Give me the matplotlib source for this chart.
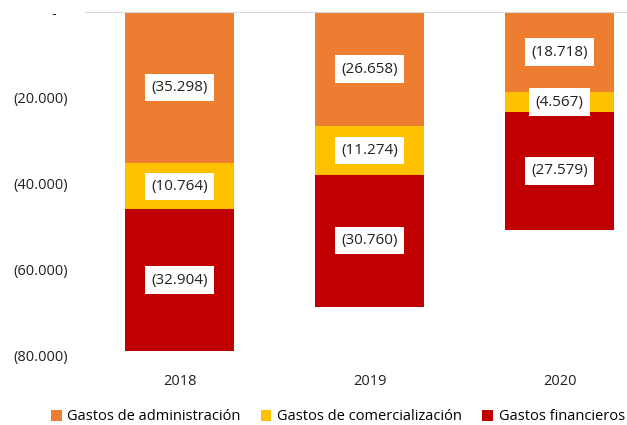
import matplotlib.pyplot as plt
import numpy as np

years = ["2018", "2019", "2020"]
administracion = [35298, 26658, 18718]
comercializacion = [10764, 11274, 4567]
financieros = [32904, 30760, 27579]

series = [
    ("Gastos de administración", administracion, "#ED7D31"),
    ("Gastos de comercialización", comercializacion, "#FFC000"),
    ("Gastos financieros", financieros, "#C00000"),
]

plt.rcParams['font.family'] = ['Open Sans', 'DejaVu Sans']

fig = plt.figure(figsize=(6.27, 4.25), dpi=100)
ax = fig.add_axes([84.5 / 627, 1 - 355 / 425, 1 - 84.5 / 627, (355 - 12) / 425])

x = np.arange(len(years))
bottom = np.zeros(len(years))
for name, vals, color in series:
    vals = -np.array(vals, dtype=float)
    ax.bar(x, vals, 0.575, bottom=bottom, color=color, label=name, edgecolor="none")
    for xi, b, v in zip(x, bottom, vals):
        txt = "(" + f"{-v:,.0f}".replace(",", ".") + ")"
        ax.text(xi, b + v / 2, txt, ha="center", va="center", fontsize=11, color="#222222",
                bbox=dict(facecolor="white", edgecolor="none", pad=4.5))
    bottom = bottom + vals

ax.set_xlim(-0.5, 2.355)
ax.set_ylim(-80000, 0)
yt = [0, -20000, -40000, -60000, -80000]
ax.set_yticks(yt)
ax.set_yticklabels(["-   "] + ["(" + f"{-t:,.0f}".replace(",", ".") + ")" for t in yt[1:]])
ax.set_xticks(x)
ax.set_xticklabels(years)
ax.tick_params(length=0, labelsize=10.5, colors="#222222")
ax.tick_params(axis="y", pad=12)
ax.tick_params(axis="x", pad=14)

for s in ["left", "right", "bottom"]:
    ax.spines[s].set_visible(False)
ax.spines["top"].set_color("#D9D9D9")

fig.legend(loc="center", bbox_to_anchor=(338 / 627, 1 - 417 / 425), ncol=3, frameon=False,
           fontsize=10.5, handlelength=0.7, handleheight=0.7, handletextpad=0.4, columnspacing=1.4)

fig.savefig("out.png", dpi=100)
